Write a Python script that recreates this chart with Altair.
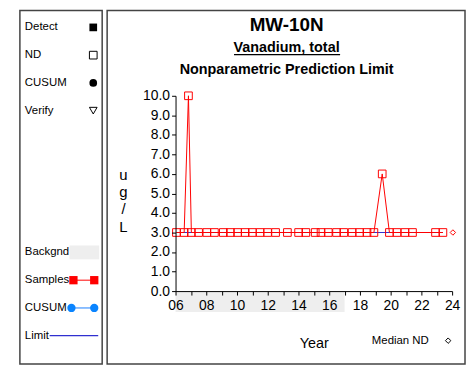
import altair as alt
import pandas as pd

# ---------------- data ----------------
years = [2006.06, 2006.56, 2006.84, 2007.03, 2007.50, 2008.04, 2008.53, 2009.11,
         2009.57, 2010.04, 2010.53, 2011.00, 2011.50, 2011.99, 2012.51, 2013.28,
         2014.01, 2014.48, 2015.09, 2015.47, 2015.94, 2016.48, 2016.95, 2017.49,
         2017.98, 2018.46, 2018.91, 2019.45, 2019.92, 2020.41, 2020.93, 2021.42,
         2022.92, 2023.40]
values = [3.0, 3.0, 10.0, 3.0, 3.0, 3.0, 3.0, 3.0,
          3.0, 3.0, 3.0, 3.0, 3.0, 3.0, 3.0, 3.0,
          3.0, 3.0, 3.0, 3.0, 3.0, 3.0, 3.0, 3.0,
          3.0, 3.0, 3.0, 6.0, 3.0, 3.0, 3.0, 3.0,
          3.0, 3.0]
limit_value = [3.0]
median_nd_year = [2024.05]
median_nd_value = [3.0]
background_start = [2006.0]
background_end = [2017.0]

title_lines = ["MW-10N", "Vanadium, total", "Nonparametric Prediction Limit"]
legend_top = ["Detect", "ND", "CUSUM", "Verify"]
legend_bottom = ["Backgnd", "Samples", "CUSUM", "Limit"]
y_title = ["u", "g", "/", "L"]
x_title = "Year"
median_label = "Median ND"
x_ticks = list(range(2006, 2025))
y_ticks = list(range(0, 11))

# ---------------- layout / style ----------------
FONT = "Liberation Sans"
W, H = 279, 197
RED = "#ff0000"
LIMIT_BLUE = "#3030d0"
CUSUM_BLUE = "#0a84ff"
FRAME = "#444444"

xs = alt.Scale(domain=[2006, 2024], nice=False, zero=False)
ys = alt.Scale(domain=[0, 10], nice=False, zero=True)

x_axis = alt.Axis(
    values=x_ticks,
    labelExpr="datum.value % 2 == 0 ? slice(toString(datum.value), 2) : ''",
    labelOverlap=False, labelFlush=False,
    labelFont=FONT, labelFontSize=14, labelColor="black", labelPadding=4,
    tickSize=4, tickColor="black", domainColor="black", grid=False,
    title=x_title, titleFont=FONT, titleFontSize=14.5, titleFontWeight="normal",
    titleColor="black", titleBaseline="alphabetic", titleY=57, zindex=1,
)
y_axis = alt.Axis(
    values=y_ticks, format=".1f", labelOverlap=False, labelFlush=False,
    labelFont=FONT, labelFontSize=14, labelColor="black", labelPadding=2,
    tickSize=4, tickColor="black", domainColor="black", grid=False,
    title=y_title, titleFont=FONT, titleFontSize=15, titleFontWeight="normal",
    titleColor="black", titleAngle=0, titleAlign="center",
    titleBaseline="alphabetic", titleX=-53, titleY=84, titleLineHeight=17.5,
    zindex=1,
)

samples = pd.DataFrame({"year": years, "value": values})
band_df = pd.DataFrame({"year": background_start, "year_end": background_end})
limit_df = pd.DataFrame({"year": [years[0]], "year_end": [years[-1]], "value": limit_value})
median_df = pd.DataFrame({"year": median_nd_year, "value": median_nd_value})

layers = []

# background period band under the x axis
layers.append(
    alt.Chart(band_df).mark_rect(color="#eeeeee").encode(
        x=alt.X("year:Q", scale=xs, axis=x_axis),
        x2="year_end:Q",
        y=alt.value(H), y2=alt.value(H + 21),
    )
)
# limit line
layers.append(
    alt.Chart(limit_df).mark_rule(color=LIMIT_BLUE, strokeWidth=1).encode(
        x=alt.X("year:Q", scale=xs, axis=x_axis),
        x2="year_end:Q",
        y=alt.Y("value:Q", scale=ys, axis=y_axis),
    )
)
# samples line + open squares
layers.append(
    alt.Chart(samples).mark_line(color=RED, strokeWidth=1).encode(
        x=alt.X("year:Q", scale=xs, axis=x_axis),
        y=alt.Y("value:Q", scale=ys, axis=y_axis),
    )
)
layers.append(
    alt.Chart(samples).mark_point(shape="square", color=RED, size=60,
                                  strokeWidth=1, filled=False, opacity=1).encode(
        x=alt.X("year:Q", scale=xs, axis=x_axis),
        y=alt.Y("value:Q", scale=ys, axis=y_axis),
    )
)
# median ND diamond
layers.append(
    alt.Chart(median_df).mark_point(shape="diamond", color=RED, size=30,
                                    strokeWidth=1, filled=False, opacity=1).encode(
        x=alt.X("year:Q", scale=xs, axis=x_axis),
        y=alt.Y("value:Q", scale=ys, axis=y_axis),
    )
)


def one(label):
    return pd.DataFrame({"label": [label]})


def text(label, x, y, size, weight="normal", align="left"):
    return alt.Chart(one(label)).mark_text(
        font=FONT, fontSize=size, fontWeight=weight, color="black",
        align=align, baseline="alphabetic" if align == "center" else "middle",
    ).encode(x=alt.value(x), y=alt.value(y), text="label:N")


# titles
layers.append(text(title_lines[0], 112, -65, 19, "bold", "center"))
layers.append(text(title_lines[1], 112, -44, 14.5, "bold", "center"))
layers.append(text(title_lines[2], 112, -21.5, 14.5, "bold", "center"))
layers.append(
    alt.Chart(one("u")).mark_rule(color="black", strokeWidth=1.2).encode(
        x=alt.value(59), x2=alt.value(166), y=alt.value(-41.5)
    )
)

# median ND note
layers.append(text(median_label, 198, 247, 11.5))
layers.append(
    alt.Chart(one("d")).mark_point(shape="diamond", color="black", size=30,
                                   strokeWidth=1, filled=False, opacity=1).encode(
        x=alt.value(275), y=alt.value(247)
    )
)

# frames
for x0, x1 in [(-157, -74), (-69, 292)]:
    layers.append(
        alt.Chart(one("f")).mark_rect(fillOpacity=0, stroke=FRAME, strokeWidth=1.5).encode(
            x=alt.value(x0), x2=alt.value(x1), y=alt.value(-86), y2=alt.value(270.5)
        )
    )

# legend panel: top group
LX, SX = -152, -83
top_y = [-69, -41, -13, 15]
top_sym = [("square", True), ("square", False), ("circle", True), ("triangle-down", False)]
for label, yy, (shape, filled) in zip(legend_top, top_y, top_sym):
    layers.append(text(label, LX, yy, 11.5))
    layers.append(
        alt.Chart(one(label)).mark_point(shape=shape, filled=filled, color="black",
                                         size=60, strokeWidth=1, opacity=1).encode(
            x=alt.value(SX), y=alt.value(yy)
        )
    )

# legend panel: bottom group
bot_y = [158, 186, 214, 242]
for label, yy in zip(legend_bottom, bot_y):
    layers.append(text(label, LX, yy, 11.5))

layers.append(
    alt.Chart(one("bg")).mark_rect(color="#eeeeee").encode(
        x=alt.value(-107), x2=alt.value(-77), y=alt.value(151), y2=alt.value(165)
    )
)
layers.append(
    alt.Chart(one("s")).mark_rule(color=RED, strokeWidth=1).encode(
        x=alt.value(-103), x2=alt.value(-82), y=alt.value(186)
    )
)
for sx in (-103, -82):
    layers.append(
        alt.Chart(one("s")).mark_point(shape="square", filled=True, color=RED,
                                       size=70, opacity=1).encode(
            x=alt.value(sx), y=alt.value(186)
        )
    )
layers.append(
    alt.Chart(one("c")).mark_rule(color="#66aaff", strokeWidth=1.5).encode(
        x=alt.value(-105), x2=alt.value(-82), y=alt.value(214)
    )
)
for cx in (-105, -82):
    layers.append(
        alt.Chart(one("c")).mark_point(shape="circle", filled=True, color=CUSUM_BLUE,
                                       size=70, opacity=1).encode(
            x=alt.value(cx), y=alt.value(214)
        )
    )
layers.append(
    alt.Chart(one("l")).mark_rule(color=LIMIT_BLUE, strokeWidth=1.2).encode(
        x=alt.value(-127), x2=alt.value(-78), y=alt.value(242)
    )
)

chart = alt.layer(*layers).properties(
    width=W, height=H,
    autosize=alt.AutoSizeParams(type="none"),
    padding={"left": 169, "top": 87, "right": 14, "bottom": 74},
).configure_view(strokeWidth=0).configure_axis(labelOverlap=False)

chart.save("out.html", embed_options={"renderer": "svg", "actions": False})
